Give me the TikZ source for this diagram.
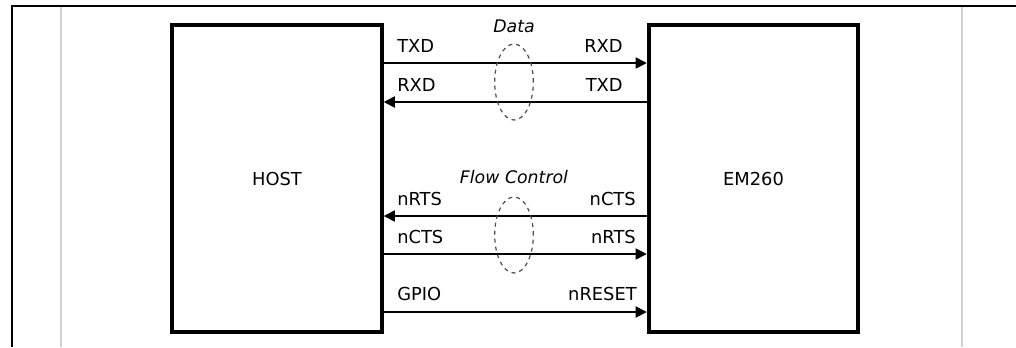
\documentclass[tikz,border=0pt]{standalone}
\usepackage{fontspec}
\setmainfont{DejaVu Sans}
\usetikzlibrary{arrows.meta,shapes.geometric}
\begin{document}
\begin{tikzpicture}[x=0.75pt,y=-0.75pt,
  box/.style={draw, line width=2.8pt, inner sep=0pt, minimum width=157pt, minimum height=230pt, font=\fontsize{13.4}{15}\selectfont},
  sig/.style={line width=2.1pt, -{Triangle[length=8.5pt,width=8pt]}},
  lbl/.style={font=\fontsize{13.4}{15}\selectfont, inner sep=0pt},
  grplbl/.style={font=\fontsize{13}{15}\selectfont\itshape, inner sep=0pt, anchor=base},
  grp/.style={draw=black!70, dashed, line width=0.9pt, ellipse, minimum width=29pt, minimum height=57pt, inner sep=0pt},
  frame/.style={line width=1.5pt},
  guide/.style={draw=black!18, line width=0.8pt}]
\useasboundingbox (0,0) rectangle (1016,347);
% page frame
\draw[frame] (12,347) -- (12,6) -- (1016,6);
\draw[guide] (61,7) -- (61,347);
\draw[guide] (962,7) -- (962,347);
% blocks
\node[box] (host) at (277,178.5) {HOST};
\node[box] (em) at (753.5,178.5) {EM260};
% rows
\coordinate (r1) at (0,63);
\coordinate (r2) at (0,102);
\coordinate (r3) at (0,216);
\coordinate (r4) at (0,254);
\coordinate (r5) at (0,312);
\draw[sig] (host.east |- r1) -- (em.west |- r1);
\draw[sig] (em.west |- r2) -- (host.east |- r2);
\draw[sig] (em.west |- r3) -- (host.east |- r3);
\draw[sig] (host.east |- r4) -- (em.west |- r4);
\draw[sig] (host.east |- r5) -- (em.west |- r5);
% labels
\node[lbl, anchor=base west] (l1) at (397,52) {TXD};
\node[lbl, anchor=base east] (m1) at (623,52) {RXD};
\node[lbl, anchor=base west] (l2) at (397,91) {RXD};
\node[lbl, anchor=base east] (m2) at (623,91) {TXD};
\node[lbl, anchor=base west] (l3) at (397,205) {nRTS};
\node[lbl, anchor=base east] (m3) at (636,205) {nCTS};
\node[lbl, anchor=base west] (l4) at (397,243) {nCTS};
\node[lbl, anchor=base east] (m4) at (636,243) {nRTS};
\node[lbl, anchor=base west] (l5) at (397,300) {GPIO};
\node[lbl, anchor=base east] (m5) at (637,300) {nRESET};
% groups
\node[grp] (gdata) at (514,82) {};
\node[grp] (gflow) at (514,235) {};
\node[grplbl] (tdata) at (514,32) {Data};
\node[grplbl] (tflow) at (514,183) {Flow Control};
\end{tikzpicture}
\end{document}
